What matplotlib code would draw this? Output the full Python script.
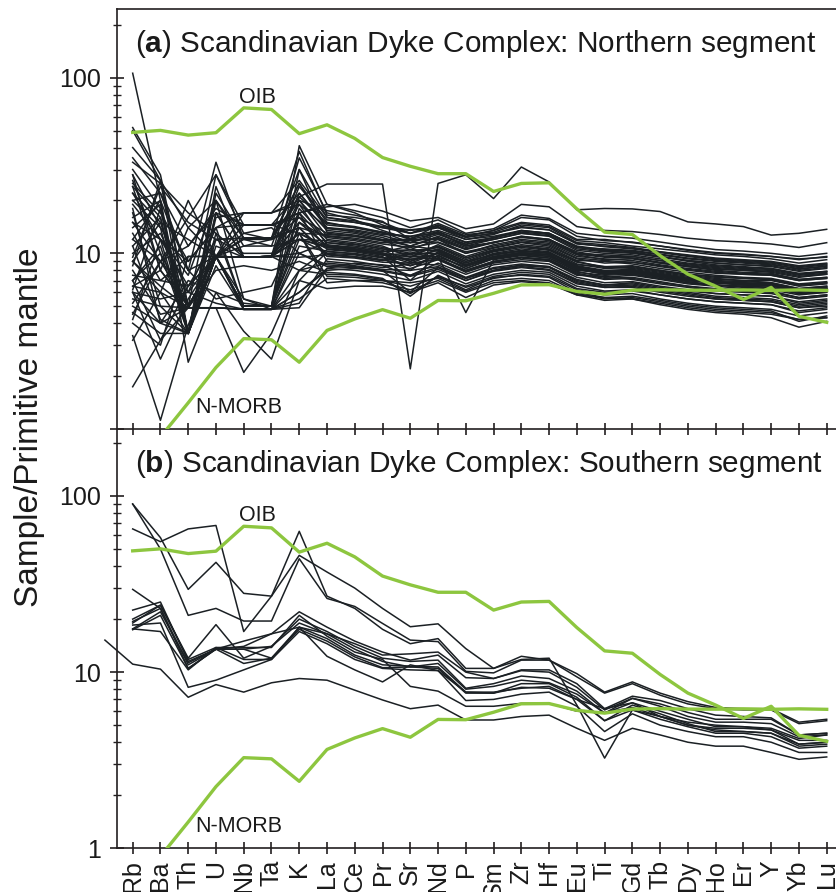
import numpy as np
import matplotlib
matplotlib.use("Agg")
import matplotlib.pyplot as plt
from matplotlib.ticker import FixedLocator, FixedFormatter, NullFormatter

plt.rcParams['font.family'] = ['Liberation Sans', 'DejaVu Sans']
plt.rcParams['mathtext.fontset'] = 'custom'
plt.rcParams['mathtext.rm'] = 'Liberation Sans'
plt.rcParams['mathtext.bf'] = 'Liberation Sans:bold'

# ---------------- data ----------------
elements = ["Rb", "Ba", "Th", "U", "Nb", "Ta", "K", "La", "Ce", "Pr", "Sr", "Nd", "P",
            "Sm", "Zr", "Hf", "Eu", "Ti", "Gd", "Tb", "Dy", "Ho", "Er", "Y", "Yb", "Lu"]

oib = [48.8, 50.1, 47.1, 48.6, 67.3, 65.9, 48.0, 53.9, 45.1, 35.1, 31.3, 28.4, 28.4,
       22.5, 25.0, 25.2, 17.9, 13.2, 12.8, 9.7, 7.6, 6.5, 5.46, 6.4, 4.38, 4.05]
nmorb = [0.88, 0.90, 1.41, 2.24, 3.27, 3.22, 2.40, 3.64, 4.23, 4.78, 4.27, 5.39, 5.37,
         5.92, 6.61, 6.63, 6.07, 5.85, 6.17, 6.20, 6.17, 6.16, 6.19, 6.15, 6.19, 6.15]

# (a) Northern segment samples
north = [
    [106, 20, 2.4, 6.0, 5.2, 5.0, 13, 11, 10.5, 10, 9, 10, 8.5, 9.5, 10, 9.8, 8.2, 7.6, 7.8, 7.4, 7.0, 6.8, 6.6, 6.6, 6.0, 6.2],
    [3.4, 1.12, 3.9, 9.6, 9.5, 9.6, 12, 11, 10.8, 10.2, 11, 10.5, 9, 9.8, 10.3, 10, 8.6, 8.4, 8.2, 7.8, 7.4, 7.1, 7.0, 6.8, 6.3, 6.5],
    [1.74, 3.2, 6.5, 9.6, 4.8, 4.8, 6.0, 8, 8.2, 8, 7.5, 8.3, 7.2, 8, 8.6, 8.4, 7, 6.6, 6.8, 6.4, 6.1, 5.9, 5.8, 5.7, 5.2, 5.4],
    [24, 8, 5, 9.6, 5, 5, 21, 24.8, 24.8, 24.8, 2.2, 25, 28, 20.5, 31, 25.5, 17.7, 18, 17.9, 17.3, 15.1, 14.7, 14.2, 12.7, 13, 13.7],
    [50, 26, 3.5, 20, 5.5, 5, 41, 19, 17, 14.5, 13, 14, 12, 12.5, 13.5, 13, 11, 10.5, 10.2, 9.6, 9.0, 8.6, 8.4, 8.2, 7.6, 7.9],
    [30, 18, 3.5, 17, 9.5, 9.6, 35, 17, 15.5, 13.5, 12, 13, 11, 11.5, 12.5, 12, 10, 9.6, 9.4, 8.8, 8.4, 8.0, 7.8, 7.7, 7.1, 7.3],
    [15, 12, 9, 14, 14.5, 14.5, 17, 18.4, 19, 17.4, 15.3, 16, 13.8, 14.7, 19, 18.4, 14.2, 13.5, 13.3, 12.8, 12.2, 11.8, 11.6, 11.3, 10.8, 11.5],
    [20, 22, 8, 33, 12, 11, 30, 16, 15, 14, 13, 14.5, 12.5, 13.5, 16, 15.5, 12.5, 11.8, 11.6, 11, 10.4, 10, 9.8, 9.6, 9.2, 9.6],
    [52, 28, 5.0, 28, 13, 12, 25, 15, 14, 13, 12.5, 13.5, 12, 12.8, 14.5, 14, 11.5, 11.2, 10.8, 10.2, 9.8, 9.4, 9.2, 9.0, 8.5, 8.8],
    [22, 12, 3.5, 24, 9.5, 9.6, 22, 14, 13.2, 12.3, 11, 12.5, 11, 12, 13, 12.6, 10.6, 10.2, 10, 9.5, 9.1, 8.8, 8.6, 8.4, 7.9, 8.2],
    [14, 19, 3.5, 16, 17, 17, 20, 13.5, 13, 12, 12, 12, 10.5, 11.5, 12.5, 12, 10.2, 9.6, 9.6, 9.1, 8.7, 8.4, 8.2, 8.1, 7.6, 7.8],
    [9, 15, 12, 9.6, 14.5, 14.5, 16, 13, 12.5, 11.8, 10.5, 12, 10, 11.2, 12, 11.6, 9.8, 9.2, 9.3, 8.8, 8.4, 8.1, 8.0, 7.8, 7.3, 7.6],
    [6.5, 6, 14, 20, 12.2, 12.2, 14, 12.6, 12.2, 11.5, 11.5, 11.6, 10.2, 11, 11.8, 11.4, 9.6, 9.3, 9.1, 8.6, 8.2, 7.9, 7.7, 7.6, 7.1, 7.3],
    [26, 10, 5, 9.6, 9.5, 9.6, 15, 12.3, 11.8, 11, 9.5, 11.2, 9.6, 10.7, 11.5, 11, 9.3, 8.8, 8.9, 8.4, 8.0, 7.7, 7.6, 7.5, 7.0, 7.2],
    [6.2, 18, 3.5, 13, 5, 5, 18, 12, 11.5, 10.8, 10, 11, 9.4, 10.5, 11.2, 10.8, 9.1, 9.0, 8.7, 8.2, 7.8, 7.5, 7.3, 7.2, 6.7, 6.9],
    [13, 7, 9.6, 9.6, 11, 11, 12, 11.8, 11.3, 10.6, 10.3, 10.8, 9.2, 10.3, 11, 10.5, 8.9, 8.4, 8.5, 8.0, 7.6, 7.4, 7.2, 7.1, 6.6, 6.8],
    [6.5, 8, 5, 9.6, 9.5, 9.6, 10, 11.5, 11, 10.4, 9, 10.6, 9, 10.2, 10.8, 10.4, 8.7, 8.2, 8.3, 7.9, 7.5, 7.2, 7.0, 7.0, 6.5, 6.7],
    [8, 4.5, 4.9, 4.9, 4.8, 4.8, 4.9, 8.2, 8.8, 8.6, 8.2, 9.2, 8.0, 9.0, 9.5, 9.2, 7.8, 7.5, 7.6, 7.2, 6.8, 6.6, 6.5, 6.4, 6.0, 6.2],
    [17, 5, 3.5, 9.6, 9.5, 9.6, 19, 11.2, 10.8, 10.2, 10.5, 10.3, 8.8, 10, 10.6, 10.2, 8.5, 8.0, 8.1, 7.7, 7.3, 7.0, 6.9, 6.8, 6.3, 6.5],
    [4.5, 9, 6, 14, 5, 5, 15, 11, 10.6, 10, 8, 10.2, 8.6, 9.8, 10.3, 10, 8.4, 7.9, 8.0, 7.6, 7.2, 6.9, 6.8, 6.7, 6.2, 6.4],
    [11, 16, 3.5, 9.6, 12, 12, 16, 10.8, 10.4, 9.8, 10, 10, 8.5, 9.6, 10.1, 9.8, 8.3, 7.7, 7.8, 7.4, 7.0, 6.8, 6.6, 6.5, 6.1, 6.3],
    [7, 3.2, 4.9, 4.9, 2.1, 3.5, 8, 10.5, 10.2, 9.6, 7, 9.8, 8.2, 9.4, 9.9, 9.6, 8.1, 7.6, 7.7, 7.3, 6.9, 6.6, 6.5, 6.4, 5.9, 6.1],
    [5, 4, 7, 6, 3.6, 2.5, 7, 10.2, 10, 9.4, 9.6, 9.6, 4.6, 9.2, 9.7, 9.4, 7.9, 7.3, 7.5, 7.1, 6.7, 6.5, 6.3, 6.2, 5.8, 6.0],
    [9, 6, 3.5, 11, 9.5, 9.6, 12, 10, 9.8, 9.2, 8.5, 9.4, 8.0, 9.0, 9.5, 9.2, 7.7, 7.2, 7.3, 6.9, 6.5, 6.3, 6.2, 6.1, 5.6, 5.8],
    [20, 14, 8, 5.5, 6, 6.5, 14, 9.6, 9.4, 8.9, 8.8, 9.2, 7.8, 8.8, 9.2, 9.0, 7.5, 7.4, 7.1, 6.7, 6.4, 6.1, 6.0, 5.9, 5.5, 5.7],
    [5.5, 5, 4.9, 4.9, 4.8, 4.8, 5.2, 9.3, 9, 8.5, 7.5, 8.8, 7.6, 8.6, 9.0, 8.7, 7.3, 6.8, 6.9, 6.5, 6.2, 5.9, 5.8, 5.7, 5.3, 5.5],
    [12, 20, 3.5, 9.6, 5, 5, 17, 9, 8.7, 8.3, 8.7, 8.6, 7.3, 8.3, 8.7, 8.4, 7.1, 6.6, 6.7, 6.3, 6.0, 5.7, 5.6, 5.5, 5.1, 5.3],
    [7.5, 7, 6.5, 9.6, 13, 14, 10, 8.6, 8.4, 8, 6, 8.3, 7.0, 8.0, 8.4, 8.1, 6.8, 6.4, 6.5, 6.1, 5.8, 5.5, 5.4, 5.3, 4.9, 5.1],
    [6, 2.5, 5.5, 9.6, 4.8, 4.8, 6, 8.2, 8, 7.6, 7, 7.9, 6.7, 7.6, 8.0, 7.8, 6.5, 6.1, 6.2, 5.8, 5.5, 5.3, 5.2, 5.1, 4.7, 4.9],
    [3.2, 6, 4.9, 8, 8.5, 8, 9, 7.8, 7.6, 7.2, 5.7, 7.5, 6.4, 7.2, 7.6, 7.4, 6.2, 5.8, 5.9, 5.5, 5.2, 5.0, 4.9, 4.8, 4.4, 4.6],
    [18, 4, 3.5, 12, 10, 10, 13, 7.4, 7.3, 7, 6.8, 7.2, 6.1, 7.0, 7.2, 7.0, 5.9, 5.5, 5.6, 5.3, 5.0, 4.8, 4.7, 4.6, 4.2, 4.3],
    [35, 22, 11, 18, 14.5, 14.5, 22, 14.5, 14, 13.2, 11.5, 13.2, 11.5, 12.2, 13.5, 13, 10.8, 10.6, 10.4, 9.9, 9.4, 9.1, 8.9, 8.7, 8.1, 8.5],
    [9.5, 24, 15, 12, 12.2, 12.2, 25, 13.8, 13.4, 12.6, 11.5, 12.8, 11.3, 12, 13, 12.5, 10.4, 10, 9.8, 9.3, 8.8, 8.5, 8.3, 8.2, 7.7, 7.9],
    [28, 8, 20, 9.6, 9.5, 9.6, 13, 10.6, 10.3, 9.8, 9.2, 10, 8.6, 9.5, 10.1, 9.8, 8.2, 7.8, 7.8, 7.4, 7.0, 6.8, 6.7, 6.6, 6.1, 6.3],
    [4.2, 12, 7.5, 20, 11, 12, 14, 9.9, 9.6, 9.1, 9.4, 9.3, 7.9, 8.9, 9.4, 9.1, 7.6, 7.1, 7.2, 6.8, 6.5, 6.2, 6.1, 6.0, 5.6, 5.8],
    [15, 9, 11, 17, 9.5, 9.6, 20, 12.5, 12, 11.3, 10.8, 11.5, 10, 10.8, 11.6, 11.2, 9.4, 9.1, 8.9, 8.5, 8.1, 7.8, 7.6, 7.5, 7.0, 7.2],
    [22, 15, 4.9, 9.6, 5, 5, 30, 13.2, 12.7, 11.9, 11, 12.3, 10.8, 11.5, 12.4, 11.8, 9.9, 9.5, 9.4, 8.9, 8.5, 8.2, 8.0, 7.9, 7.4, 7.6],
    [5.2, 9, 16, 28, 14.5, 14.5, 17, 11.5, 11.2, 10.6, 9.8, 10.9, 9.4, 10.4, 11.0, 10.6, 9.0, 8.3, 8.4, 8.0, 7.6, 7.3, 7.2, 7.1, 6.6, 6.8],
    [40, 26, 14, 9.6, 12.2, 12.2, 38, 16.5, 16, 15, 13, 14.8, 12.8, 13.2, 14.8, 14.2, 11.8, 11.5, 11, 10.6, 10.2, 9.8, 9.6, 9.3, 8.8, 9.2],
    [7, 11, 3.5, 9.6, 5.5, 4.8, 11, 10.3, 9.9, 9.5, 8.5, 9.7, 8.2, 9.3, 9.8, 9.4, 8.0, 7.8, 7.6, 7.2, 6.8, 6.6, 6.4, 6.3, 5.9, 6.0],
    [10, 13, 6, 5.2, 4.8, 4.8, 8, 8.8, 8.5, 8.1, 8, 8.4, 7.2, 8.2, 8.5, 8.3, 6.9, 6.5, 6.6, 6.2, 5.9, 5.6, 5.5, 5.4, 5.0, 5.2],
    [4.6, 3.5, 3.5, 9.6, 9.5, 9.6, 8, 7.6, 7.5, 7.1, 5.9, 7.4, 6.2, 7.3, 7.5, 7.3, 6.0, 5.6, 5.7, 5.4, 5.1, 4.9, 4.8, 4.7, 4.1, 4.4],
    [25, 17, 9, 14, 17, 17, 19, 14, 13.6, 12.8, 12.5, 13, 11.2, 12.3, 13.2, 12.8, 10.8, 10.3, 10.1, 9.6, 9.1, 8.8, 8.6, 8.5, 8.0, 8.3],
    [8.5, 26, 4.9, 9.6, 9.5, 9.6, 15, 11, 10.6, 10, 9.6, 10.4, 8.8, 9.9, 10.4, 10.1, 8.4, 7.9, 8.0, 7.6, 7.2, 6.9, 6.8, 6.7, 6.2, 6.4],
    [6, 4, 4.9, 4.9, 4.8, 4.8, 5.5, 7.2, 7.0, 6.8, 6.2, 7.0, 6.0, 6.8, 7.0, 6.8, 5.8, 5.4, 5.5, 5.1, 4.8, 4.6, 4.5, 4.3, 3.8, 4.1],
    [12, 9, 5, 9.6, 9.5, 9.6, 17, 19, 17.5, 16, 14, 15.5, 13, 13.8, 16.5, 15.8, 13, 12.5, 12.2, 11.6, 11, 10.5, 10.3, 10, 9.6, 10],
    [28, 14, 3.5, 22, 12.2, 12.2, 20, 17.5, 16.5, 15.2, 12, 14.5, 12.5, 13.5, 15, 14.5, 12, 12, 11.5, 11, 10.5, 10.1, 9.9, 9.6, 9.3, 9.5],
    [9, 6.5, 4.9, 4.9, 4.8, 4.8, 7, 6.3, 6.5, 6.5, 6, 6.8, 5.6, 6.6, 6.9, 6.7, 5.8, 5.6, 5.5, 5.2, 4.9, 4.7, 4.6, 4.5, 4.2, 4.3],
    [16, 20, 8, 9.6, 9.5, 9.6, 13, 6.8, 7.0, 7.0, 6.5, 7.3, 6.5, 7.4, 7.8, 7.6, 6.3, 6.0, 6.1, 5.8, 5.5, 5.3, 5.2, 5.1, 4.6, 4.8],
    [33, 25, 17, 13, 9.5, 9.6, 24, 15.5, 15, 14, 13.5, 14, 12.3, 13, 14, 13.6, 11.3, 11, 10.7, 10.2, 9.7, 9.3, 9.1, 8.9, 8.4, 8.7],
    [7, 10, 3.5, 17, 14.5, 14.5, 13, 12.8, 12.5, 11.8, 11.8, 12.2, 10.6, 11.6, 12.3, 12, 10, 9.8, 9.6, 9.1, 8.6, 8.3, 8.1, 8.0, 7.5, 7.7],
    [4, 3, 9.6, 9.6, 9.5, 9.6, 9.5, 9.8, 9.5, 9.1, 10, 9.5, 8.4, 9.4, 9.9, 9.6, 8.1, 7.7, 7.9, 7.5, 7.1, 6.8, 6.7, 6.6, 6.1, 6.3],
    [19, 12, 6.5, 12, 12.2, 12.2, 21, 14.8, 14.2, 13.2, 12.2, 13.3, 11.6, 12.3, 13.4, 13, 10.9, 10.4, 10.3, 9.8, 9.3, 9, 8.8, 8.6, 8.2, 8.4],
    [11, 4.2, 3.5, 8.5, 4.8, 4.8, 10, 8.4, 8.3, 7.9, 7.4, 8.1, 7, 7.9, 8.3, 8.0, 6.7, 6.4, 6.4, 6.0, 5.7, 5.5, 5.4, 5.3, 4.9, 5.0],
    [24, 16, 3.5, 9.6, 17, 17, 26, 16, 15.3, 14.2, 13.6, 14.2, 12.4, 13, 14.2, 13.6, 11.4, 10.9, 10.6, 10.1, 9.6, 9.2, 9, 8.8, 8.3, 8.6],
    [6, 5.5, 6, 9.6, 5, 5, 12, 10.8, 10.5, 9.8, 8.8, 10, 8.6, 9.6, 10.1, 9.8, 8.2, 7.8, 7.9, 7.5, 7.1, 6.8, 6.7, 6.6, 6.2, 6.3],
]

# (b) Southern segment samples
south = [
    [90, 58, 29.5, 42, 28, 27, 46, 37, 30, 23, 18.1, 18.8, 13.6, 10.5, 12.3, 11.7, 9.8, 7.7, 8.8, 7.6, 6.8, 6.3, 6.2, 6.2, 5.2, 5.4],
    [90, 50, 21, 23, 19.5, 19.5, 44, 26.2, 23.6, 18.9, 15.2, 14.9, 10.1, 9.9, 11.7, 11.7, 9.4, 7.6, 8.6, 7.4, 6.6, 6.2, 6.1, 6.1, 5.1, 5.3],
    [65, 55, 65, 68, 17, 27, 63, 27, 23, 17.5, 14.5, 15.5, 10.5, 10.5, 11.8, 12.0, 6.5, 3.25, 6.1, 5.6, 5.2, 5.0, 4.9, 4.8, 4.2, 4.4],
    [29.5, 23, 10.5, 13.5, 15, 16.5, 18, 16.5, 14.5, 12.5, 12.7, 13, 10, 9.2, 10.3, 10.3, 8.6, 6.2, 7.3, 6.9, 6.2, 5.7, 5.6, 5.5, 4.4, 4.5],
    [22.5, 25, 11.5, 13.5, 14, 16.5, 22, 18, 15, 13, 11.7, 12.5, 9.3, 9.2, 10.2, 10, 8.2, 6.1, 7.1, 6.6, 5.9, 5.4, 5.4, 5.4, 4.4, 4.5],
    [20, 24, 12, 18.6, 12, 14, 20, 17, 14, 12, 11.5, 11.7, 8.1, 8.6, 9.5, 9.2, 7.8, 5.85, 7.1, 6.4, 5.6, 5.2, 5.2, 5.1, 4.3, 4.4],
    [19.4, 23, 11, 13.5, 13.5, 14, 19, 16.5, 13.5, 11.5, 10.7, 11.2, 8.0, 8.3, 9.0, 8.7, 7.5, 5.85, 6.7, 6.0, 5.4, 4.9, 4.9, 4.7, 4.1, 4.1],
    [17.6, 22, 11.3, 13.5, 11.2, 12, 18, 15.5, 12.5, 11, 10.8, 10.7, 7.7, 7.6, 8.6, 8.6, 7.2, 5.3, 6.5, 5.8, 5.1, 4.6, 4.6, 4.5, 3.9, 4.0],
    [17.4, 21, 10.5, 13.5, 13.5, 12, 17.5, 15, 12.2, 10.6, 10.7, 10.5, 7.6, 7.6, 8.2, 8.1, 7.0, 5.3, 6.1, 5.4, 4.9, 4.5, 4.5, 4.3, 3.7, 3.8],
    [18.5, 19, 8.2, 9.0, 10.3, 11.8, 18, 12.3, 10.3, 8.8, 11, 10.2, 6.9, 7.0, 7.5, 7.7, 6.4, 4.6, 5.8, 5.0, 4.6, 4.3, 4.3, 4.0, 3.5, 3.5],
    [17.6, 17, 10.3, 13.8, 11.8, 11.8, 17, 14.5, 11.8, 10.5, 10.3, 10.2, 7.7, 7.7, 8.1, 8.3, 7.0, 6.2, 6.7, 5.6, 5.0, 4.8, 4.8, 4.7, 3.9, 4.0],
    [19, 24, 11.8, 13.8, 13.8, 13.8, 21, 16, 13, 11.8, 8.3, 7.8, 6.4, 6.4, 6.65, 6.65, 6.0, 5.9, 6.3, 5.6, 5.0, 4.7, 4.6, 4.5, 3.8, 3.9],
]
# low southern sample, whose trace enters from left of the Rb column
south_low = [11.1, 10.4, 7.2, 8.5, 7.7, 8.7, 9.2, 9.0, 7.9, 6.95, 6.2, 6.5, 5.35, 5.35, 5.6, 5.7, 4.8, 4.1, 4.8, 4.4, 4.0, 3.8, 3.8, 3.5, 3.2, 3.3]
south_low_lead = 15.2   # value at the position one step before Rb

titles = [r"($\mathbf{a}$) Scandinavian Dyke Complex: Northern segment",
          r"($\mathbf{b}$) Scandinavian Dyke Complex: Southern segment"]

# ---------------- style ----------------
W, H = 836, 892
BLACK = '#1b2024'
GREEN = '#8dc63f'
SPINE = '#231f20'
TXT = '#1a1a1a'

fig = plt.figure(figsize=(W / 100, H / 100), dpi=100)
left = 116.7 / W
ax_a = fig.add_axes([left, (H - 429.0) / H, 1 - left, 419.7 / H])
ax_b = fig.add_axes([left, (H - 848.3) / H, 1 - left, 419.0 / H])

x = np.arange(len(elements))

for ax, data, title, ymax in [(ax_a, north, titles[0], 245), (ax_b, south, titles[1], 239)]:
    ax.patch.set_visible(False)
    for row in data:
        ax.plot(x, row, color=BLACK, lw=1.1, zorder=2)
    ax.plot(x, oib, color=GREEN, lw=2.4, zorder=4)
    ax.plot(x, nmorb, color=GREEN, lw=2.4, zorder=4)
    ax.set_yscale('log')
    ax.set_ylim(1, ymax)
    ax.set_xlim(-0.576, 25.335)
    ax.text(4.5, 72, "OIB", ha='center', va='baseline', fontsize=15.5, color=TXT, zorder=5)
    ax.text(3.82, 1.23, "N-MORB", ha='center', va='baseline', fontsize=15.5, color=TXT, zorder=5)
    ax.text(0.0255, 0.898, title, transform=ax.transAxes, ha='left', va='baseline',
            fontsize=21.4, color=TXT)
    ax.spines['right'].set_visible(False)
    for s in ['left', 'bottom', 'top']:
        ax.spines[s].set_linewidth(1.2)
        ax.spines[s].set_color(SPINE)
    ax.yaxis.set_major_locator(FixedLocator([1, 10, 100]))
    minors = [m * d for d in (1, 10, 100) for m in range(2, 10) if m * d < ymax]
    ax.yaxis.set_minor_locator(FixedLocator(minors))
    ax.yaxis.set_minor_formatter(NullFormatter())
    ax.tick_params(axis='y', which='major', direction='inout', length=10, width=1.2,
                   color=SPINE, labelsize=18, pad=6, labelcolor=TXT)
    ax.tick_params(axis='y', which='minor', direction='inout', length=6, width=1.0, color=SPINE)
    ax.set_xticks(x)
    ax.tick_params(axis='x', which='major', direction='inout', length=9, width=1.2,
                   color=SPINE, top=False, labelcolor=TXT)

ax_b.plot(np.arange(-1, len(elements)), [south_low_lead] + south_low, color=BLACK, lw=1.1,
          zorder=2, clip_on=False)

ax_a.yaxis.set_major_formatter(FixedFormatter(['', '10', '100']))
ax_b.yaxis.set_major_formatter(FixedFormatter(['1', '10', '100']))
ax_a.set_xticklabels([])
ax_b.spines['top'].set_visible(False)
ax_b.set_xticklabels(elements, rotation=90, fontsize=18)
ax_b.tick_params(axis='x', pad=4)

fig.text(30 / W, 1 - 427.5 / H, "Sample/Primitive mantle", rotation=90, ha='center',
         va='center', fontsize=24, color=TXT)

fig.savefig("out.png", dpi=100, facecolor='white')
